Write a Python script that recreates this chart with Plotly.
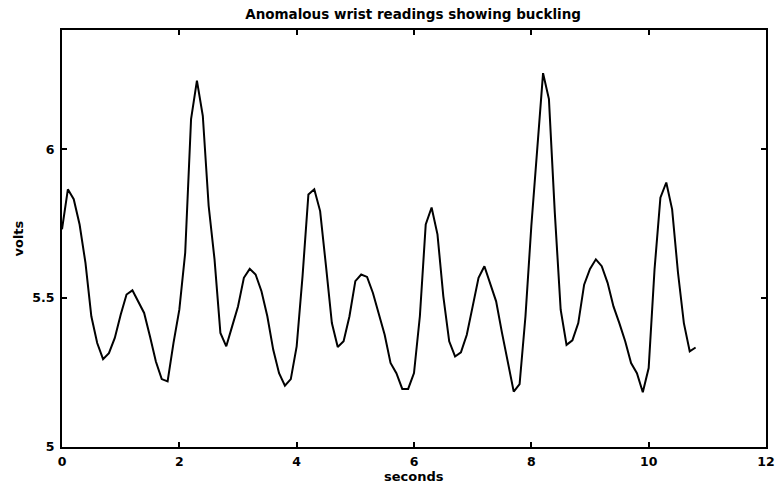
import plotly.graph_objects as go

title_text = "Anomalous wrist readings showing buckling"
x_label = "seconds"
y_label = "volts"

t_seconds = [round(i * 0.1, 1) for i in range(109)]
volts = [
    5.731, 5.865, 5.832, 5.747, 5.618, 5.439, 5.349, 5.295, 5.315, 5.366,
    5.444, 5.512, 5.526, 5.489, 5.450, 5.371, 5.287, 5.228, 5.220, 5.349,
    5.461, 5.652, 6.101, 6.230, 6.112, 5.809, 5.630, 5.383, 5.338, 5.405,
    5.472, 5.568, 5.598, 5.579, 5.523, 5.439, 5.327, 5.248, 5.206, 5.228,
    5.338, 5.573, 5.848, 5.865, 5.792, 5.607, 5.416, 5.336, 5.355, 5.439,
    5.557, 5.579, 5.571, 5.517, 5.450, 5.377, 5.282, 5.248, 5.195, 5.195,
    5.248, 5.439, 5.747, 5.804, 5.714, 5.506, 5.355, 5.304, 5.318, 5.377,
    5.472, 5.568, 5.607, 5.551, 5.489, 5.383, 5.282, 5.186, 5.211, 5.439,
    5.742, 6.011, 6.255, 6.168, 5.787, 5.461, 5.343, 5.358, 5.416, 5.545,
    5.598, 5.630, 5.607, 5.551, 5.472, 5.416, 5.355, 5.282, 5.248, 5.184,
    5.265, 5.596, 5.837, 5.888, 5.798, 5.585, 5.416, 5.321, 5.334,
]

x_ticks = [0, 2, 4, 6, 8, 10, 12]
y_ticks = [5, 5.5, 6]
y_tick_labels = ["5", "5.5", "6"]

font_family = "DejaVu Sans, Liberation Sans, sans-serif"
lab_font = dict(family=font_family, size=13, color="black", weight="bold")

fig = go.Figure()
fig.add_trace(go.Scatter(
    x=t_seconds, y=volts, mode="lines",
    line=dict(color="black", width=2),
    showlegend=False, hoverinfo="skip",
))

fig.update_layout(
    width=775, height=484,
    margin=dict(l=62, r=9, t=30, b=37),
    paper_bgcolor="white", plot_bgcolor="white",
    font=lab_font,
    title=dict(text=title_text, x=0.533, xanchor="center", y=0.971, yanchor="middle",
               font=dict(family=font_family, size=13.5, color="black", weight="bold")),
    annotations=[
        dict(text=x_label, xref="paper", yref="paper", x=0.5, y=-0.071,
             xanchor="center", yanchor="middle", showarrow=False, font=lab_font),
        dict(text=y_label, xref="paper", yref="paper", x=-0.0625, y=0.5,
             xanchor="center", yanchor="middle", textangle=-90, showarrow=False,
             font=lab_font),
    ],
)

fig.update_xaxes(
    range=[0, 12], tickvals=x_ticks, ticktext=[str(v) for v in x_ticks],
    showgrid=False, zeroline=False, automargin=False,
    showline=True, linecolor="black", linewidth=2, mirror="allticks",
    ticks="inside", ticklen=5, tickwidth=1.5, tickcolor="black",
    ticklabelstandoff=2, ticklabeloverflow="allow",
    tickfont=dict(family=font_family, size=12.5, color="black", weight="bold"),
)
fig.update_yaxes(
    range=[5, 6.4], tickvals=y_ticks, ticktext=y_tick_labels,
    showgrid=False, zeroline=False, automargin=False,
    showline=True, linecolor="black", linewidth=2, mirror="allticks",
    ticks="inside", ticklen=5, tickwidth=1.5, tickcolor="black",
    ticklabelstandoff=3, ticklabeloverflow="allow",
    tickfont=dict(family=font_family, size=12.5, color="black", weight="bold"),
)

fig.write_html("out.html")
